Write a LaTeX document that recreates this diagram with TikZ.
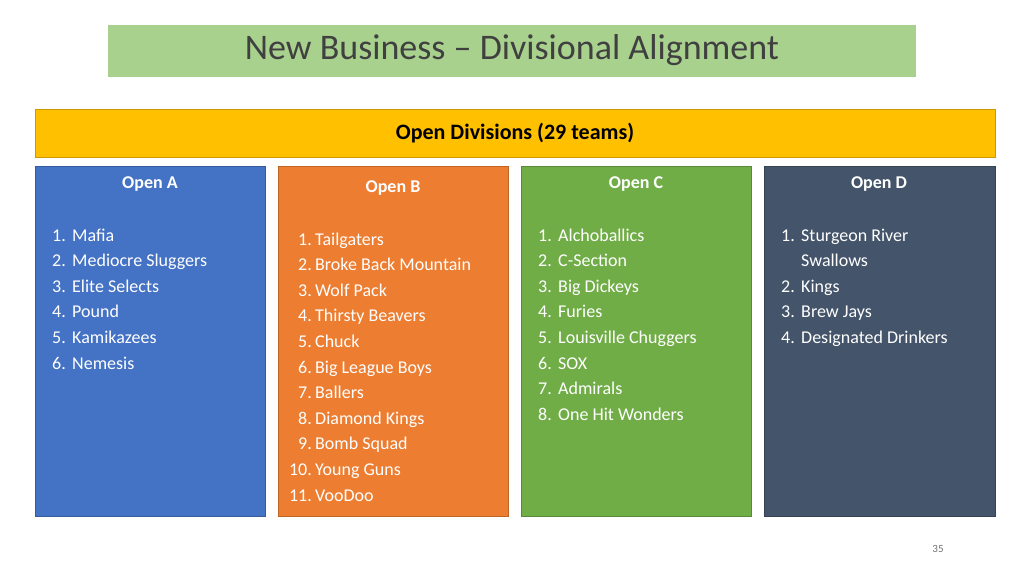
\documentclass[tikz,border=0pt]{standalone}
\usepackage{fontspec}
\setmainfont{Carlito}
\begin{document}
\begin{tikzpicture}[x=1pt,y=-1pt,
  box/.style={draw=#1!80!black,fill=#1,line width=0.8pt},
  head/.style={text=white,font=\fontsize{18}{20}\selectfont\bfseries},
  num/.style={text=white,anchor=base east,font=\fontsize{18}{20}\selectfont,inner sep=0},
  item/.style={text=white,anchor=base west,font=\fontsize{18}{20}\selectfont,inner sep=0}]
\definecolor{tgreen}{HTML}{A9D18E}
\definecolor{tyellow}{HTML}{FFC000}
\definecolor{cA}{HTML}{4472C4}
\definecolor{cB}{HTML}{ED7D31}
\definecolor{cC}{HTML}{70AD47}
\definecolor{cD}{HTML}{44546A}
\useasboundingbox (0,0) rectangle (1024,576);
\fill[white] (0,0) rectangle (1024,576);
\fill[tgreen] (108,25) rectangle (916,77);
\node[text=black!75,font=\fontsize{36}{40}\selectfont] (title) at (512,50) {New Business – Divisional Alignment};
\draw[tyellow!80!black,fill=tyellow,line width=0.8pt] (35,109) rectangle (995,157);
\node[font=\fontsize{22}{26}\selectfont\bfseries] (sub) at (515,133) {Open Divisions (29 teams)};
\draw[box=cA] (35,166) rectangle (265,516);
\draw[box=cB] (278,166) rectangle (508,516);
\draw[box=cC] (521,166) rectangle (751,516);
\draw[box=cD] (764,166) rectangle (995,516);
\node[head] (hA) at (150,184) {Open A};
\node[head] (hB) at (393,188) {Open B};
\node[head] (hC) at (636,184) {Open C};
\node[head] (hD) at (879,184) {Open D};
\foreach \t [count=\i] in {Mafia,Mediocre Sluggers,Elite Selects,Pound,Kamikazees,Nemesis}{
  \node[num] (nA\i) at (66,241+25.6*\i-25.6) {\i.};
  \node[item] (iA\i) at (72,241+25.6*\i-25.6) {\t};}
\foreach \t [count=\i] in {Tailgaters,Broke Back Mountain,Wolf Pack,Thirsty Beavers,Chuck,Big League Boys,Ballers,Diamond Kings,Bomb Squad,Young Guns,VooDoo}{
  \node[num] (nB\i) at (312,245+25.6*\i-25.6) {\i.};
  \node[item] (iB\i) at (315,245+25.6*\i-25.6) {\t};}
\foreach \t [count=\i] in {Alchoballics,C-Section,Big Dickeys,Furies,Louisville Chuggers,SOX,Admirals,One Hit Wonders}{
  \node[num] (nC\i) at (552,241+25.6*\i-25.6) {\i.};
  \node[item] (iC\i) at (558,241+25.6*\i-25.6) {\t};}
\node[num] (nD1) at (795,241) {1.};
\node[item] (iD1) at (801,241) {Sturgeon River};
\node[item] (iD1b) at (801,266.6) {Swallows};
\foreach \t [count=\i from 2] in {Kings,Brew Jays,Designated Drinkers}{
  \node[num] (nD\i) at (795,241+25.6*\i) {\i.};
  \node[item] (iD\i) at (801,241+25.6*\i) {\t};}
\node[text=black!55,font=\fontsize{11}{13}\selectfont] (pg) at (938,549) {35};
\end{tikzpicture}
\end{document}
